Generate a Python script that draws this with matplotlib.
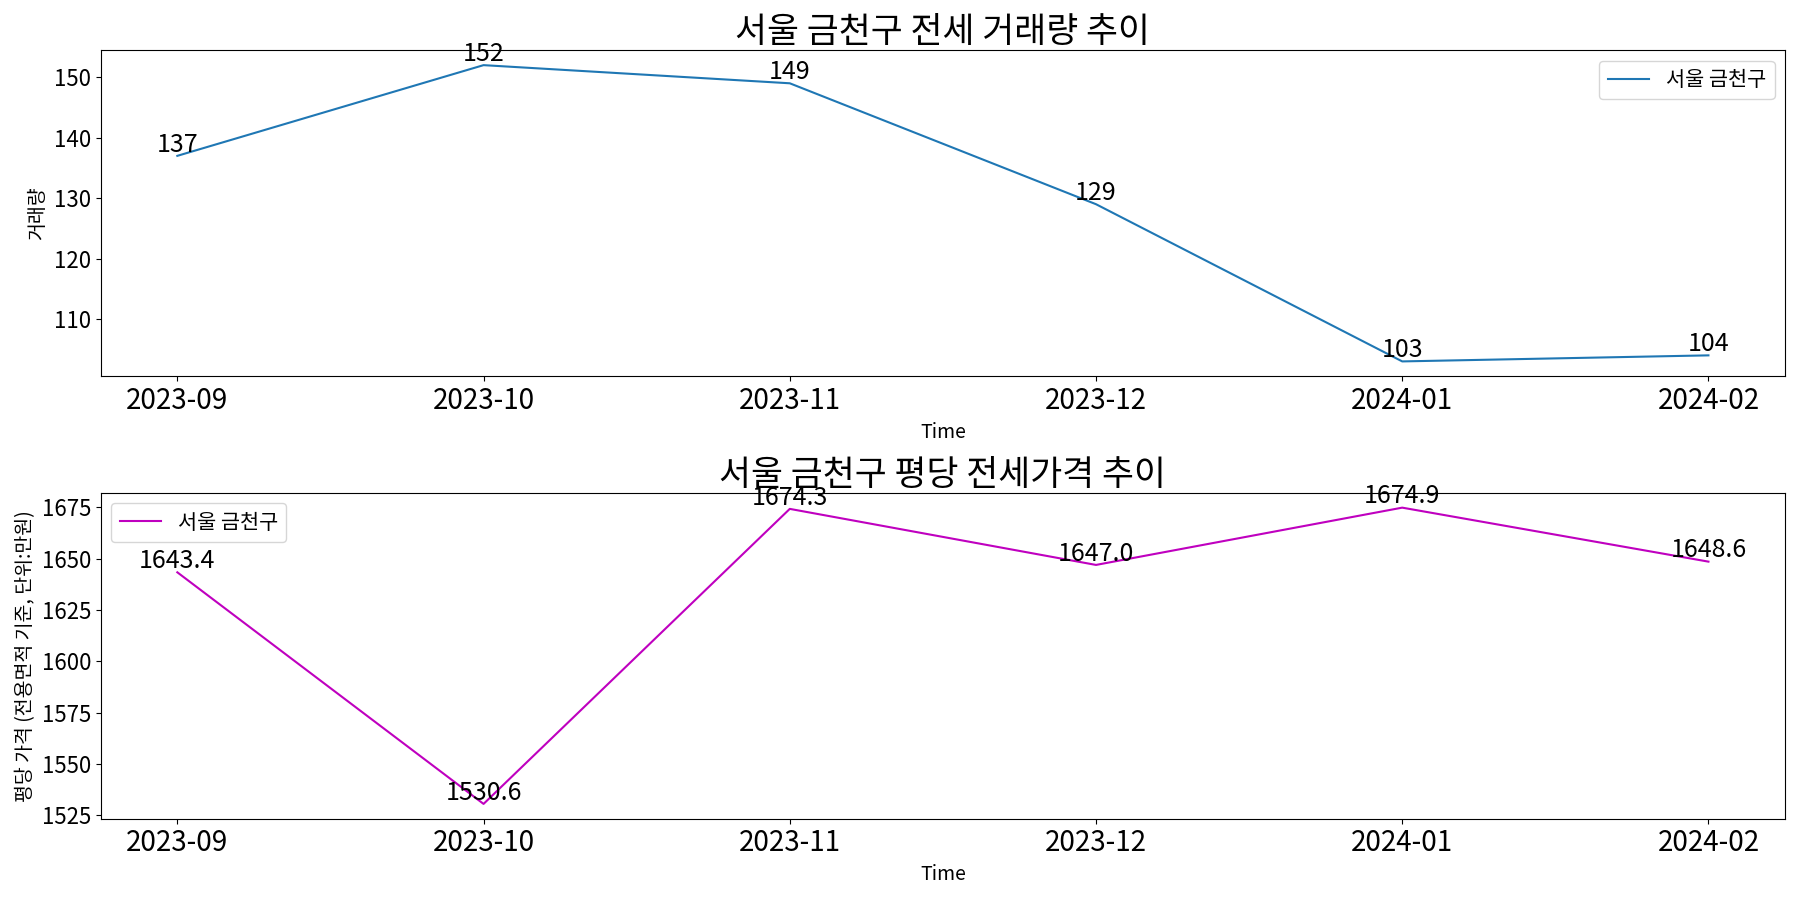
import matplotlib
matplotlib.use("Agg")
import matplotlib.pyplot as plt
from matplotlib import font_manager

# find an installed CJK font (ttc files may register under one name only)
cjk = [f.name for f in font_manager.fontManager.ttflist if 'CJK' in f.name]
pref = [n for n in ['Noto Sans CJK KR', 'Noto Sans CJK JP', 'Noto Sans CJK SC', 'Noto Sans CJK TC'] if n in cjk]
plt.rcParams['font.family'] = 'sans-serif'
plt.rcParams['font.sans-serif'] = pref + cjk + ['DejaVu Sans']
plt.rcParams['axes.unicode_minus'] = False

months = ['2023-09', '2023-10', '2023-11', '2023-12', '2024-01', '2024-02']
volume = [137, 152, 149, 129, 103, 104]
price = [1643.4, 1530.6, 1674.3, 1647.0, 1674.9, 1648.6]
region = '서울 금천구'

fig, (ax1, ax2) = plt.subplots(2, 1, figsize=(18, 9), dpi=100)

# 거래량
ax1.plot(months, volume, label=region)
for x, y in zip(months, volume):
    ax1.annotate(f'{y}', (x, y), textcoords='offset points', xytext=(0, 3), ha='center', fontsize=18)
ax1.set_title(f'{region} 전세 거래량 추이', fontsize=25)
ax1.set_xlabel('Time', fontsize=14)
ax1.set_ylabel('거래량', fontsize=14)
ax1.tick_params(axis='x', labelsize=20)
ax1.tick_params(axis='y', labelsize=16)
ax1.legend(fontsize=15, loc='upper right')

# 평당 가격
ax2.plot(months, price, color='m', label=region)
for x, y in zip(months, price):
    ax2.annotate(f'{y:.1f}', (x, y), textcoords='offset points', xytext=(0, 3), ha='center', fontsize=18)
ax2.set_title(f'{region} 평당 전세가격 추이', fontsize=25)
ax2.set_xlabel('Time', fontsize=14)
ax2.set_ylabel('평당 가격 (전용면적 기준, 단위:만원)', fontsize=14)
ax2.tick_params(axis='x', labelsize=20)
ax2.tick_params(axis='y', labelsize=16)
ax2.legend(fontsize=15, loc='upper left')

plt.tight_layout()
plt.savefig('out.png')
